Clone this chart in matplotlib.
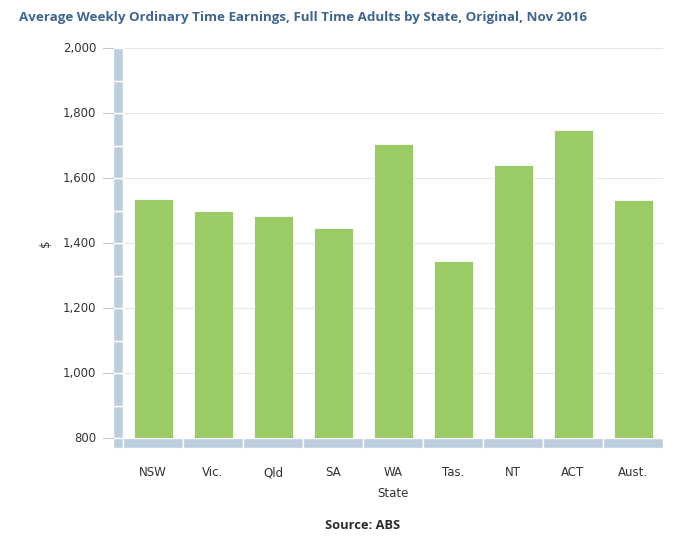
import matplotlib
matplotlib.use("Agg")
import matplotlib.pyplot as plt
from matplotlib.patches import Rectangle
import numpy as np

plt.rcParams['font.family'] = ['Open Sans', 'DejaVu Sans']

states = ["NSW", "Vic.", "Qld", "SA", "WA", "Tas.", "NT", "ACT", "Aust."]
earnings = [1536.4, 1500.0, 1481.8, 1446.4, 1704.0, 1345.9, 1638.7, 1748.0, 1533.6]
yticks = [800, 1000, 1200, 1400, 1600, 1800, 2000]
ytick_labels = ["800", "1,000", "1,200", "1,400", "1,600", "1,800", "2,000"]

W, H = 678, 538
fig = plt.figure(figsize=(W / 100, H / 100), dpi=100)
L, R, B, T = 123, 663, 438, 48
ax = fig.add_axes([L / W, 1 - B / H, (R - L) / W, (B - T) / H])

ymin, ymax = 800, 2000
ax.set_xlim(-0.5, len(states) - 0.5)
ax.set_ylim(ymin, ymax)

green = "#9acb64"
band = "#bccddd"
grid = "#e6e6e6"
txt = "#333333"
axfont = "DejaVu Sans"

x = np.arange(len(states))
ax.bar(x, [v - ymin for v in earnings], bottom=ymin, width=0.65, color=green,
       edgecolor="white", linewidth=0.6, zorder=3)

for t in yticks:
    ax.axhline(t, color=grid, linewidth=0.8, zorder=1)

px_x = (len(states)) / (R - L)
px_y = (ymax - ymin) / (B - T)
bw = 10
x0 = -0.5 - bw * px_x
for s in range(800, 2000, 100):
    ax.add_patch(Rectangle((x0, s), bw * px_x, 100, facecolor=band,
                           edgecolor="white", linewidth=1.0, clip_on=False, zorder=2))
y0 = ymin - bw * px_y
ax.add_patch(Rectangle((x0, y0), bw * px_x, bw * px_y, facecolor=band,
                       edgecolor="white", linewidth=1.0, clip_on=False, zorder=2))
for i in range(len(states)):
    ax.add_patch(Rectangle((i - 0.5, y0), 1.0, bw * px_y, facecolor=band,
                           edgecolor="white", linewidth=1.0, clip_on=False, zorder=2))

for t in yticks:
    ax.plot([x0 - 10 * px_x, x0], [t, t], color="#c0c8d0", linewidth=0.8,
            clip_on=False, zorder=2)

for sp in ax.spines.values():
    sp.set_visible(False)
ax.set_xticks([])
ax.set_yticks([])

for t, lab in zip(yticks, ytick_labels):
    ypix = B - (t - ymin) / px_y
    fig.text(96 / W, 1 - (ypix + 4) / H, lab, ha="right", va="baseline",
             fontsize=8.5, color=txt, family=axfont)

for i, s in enumerate(states):
    fig.text((L + (i + 0.5) * (R - L) / len(states)) / W, 1 - 476 / H, s,
             ha="center", va="baseline", fontsize=8.5, color=txt, family=axfont)

fig.text(393 / W, 1 - 497 / H, "State", ha="center", va="baseline", fontsize=8.5,
         color=txt, family=axfont)
fig.text(45 / W, 1 - 243 / H, "$", ha="center", va="center", fontsize=8.5,
         color=txt, rotation=90, family=axfont)

fig.text(19 / W, 1 - 21 / H, "Average Weekly Ordinary Time Earnings, Full Time Adults by State, Original, Nov 2016",
         ha="left", va="baseline", fontsize=9.6, fontweight="bold", color="#3e6591")
fig.text(363 / W, 1 - 529 / H, "Source: ABS", ha="center", va="baseline",
         fontsize=9.3, fontweight="bold", color="#2b2b2b")

fig.savefig("out.png", dpi=100)
